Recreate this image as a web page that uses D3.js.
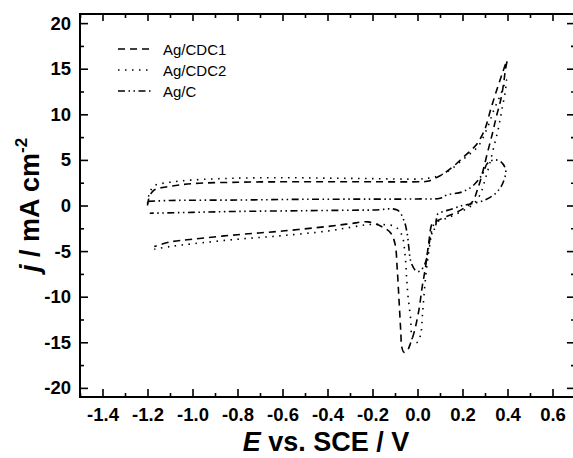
<!DOCTYPE html>
<html><head><meta charset="utf-8">
<script src="https://cdn.jsdelivr.net/npm/d3@7"></script>
<style>body{margin:0;background:#fff}svg{display:block}</style>
</head><body>
<script>
// ---- data ----
const seriesNames = ["Ag/CDC1", "Ag/CDC2", "Ag/C"];
// Ag/CDC1 (dashed), in scan order: anodic branch then cathodic return
const cdc1E = [-1.2,-1.195,-1.185,-1.167,-1.1,-1.0,-0.8,-0.6,-0.4,-0.2,0.0,0.043,0.08,0.117,0.16,0.206,0.24,0.266,0.285,0.303,0.325,0.35,0.377,0.398,
  0.39,0.384,0.37,0.35,0.333,0.31,0.288,0.266,0.244,0.206,0.16,0.12,0.085,0.066,0.05,0.036,0.021,0.006,-0.016,-0.031,-0.045,-0.06,-0.07,-0.074,-0.078,-0.083,-0.09,-0.1,-0.12,-0.16,-0.22,-0.3,-0.4,-0.6,-0.8,-1.0,-1.1,-1.17];
const cdc1J = [0.0,0.7,1.3,1.75,2.1,2.4,2.55,2.6,2.6,2.6,2.6,2.65,3.0,3.5,4.3,5.35,6.1,6.8,7.6,8.6,10.5,12.5,14.5,15.9,
  14.8,13.6,11.6,9.7,7.9,5.7,3.5,1.7,0.4,-0.3,-0.9,-1.3,-1.7,-1.95,-4.1,-6.7,-8.9,-11.5,-14.0,-15.1,-15.9,-16.1,-15.5,-14.0,-12.2,-10.0,-7.0,-4.2,-3.0,-2.3,-1.8,-2.0,-2.3,-2.8,-3.2,-3.7,-4.0,-4.5];
// Ag/CDC2 (dotted)
const cdc2E = [-1.2,-1.195,-1.185,-1.167,-1.1,-1.0,-0.8,-0.6,-0.4,-0.2,0.0,0.05,0.1,0.15,0.2,0.24,0.27,0.31,0.34,0.37,0.395,
  0.39,0.375,0.36,0.34,0.32,0.3,0.28,0.25,0.2,0.13,0.075,0.055,0.04,0.03,0.022,0.015,0.0,-0.02,-0.031,-0.042,-0.048,-0.055,-0.07,-0.1,-0.15,-0.22,-0.3,-0.4,-0.6,-0.8,-1.0,-1.1,-1.17];
const cdc2J = [0.2,1.0,1.7,2.2,2.55,2.8,3.0,3.05,3.0,2.95,2.9,3.0,3.3,4.0,5.0,5.8,6.5,8.5,10.5,12.2,13.8,
  12.5,10.5,8.5,6.5,4.5,2.8,1.3,0.2,-0.6,-1.4,-2.0,-4.3,-7.0,-9.5,-12.0,-14.0,-15.0,-14.8,-12.3,-10.0,-8.0,-5.5,-3.2,-2.3,-2.1,-2.1,-2.4,-2.8,-3.3,-3.7,-4.2,-4.5,-4.8];
// Ag/C (dash-dot-dot)
const agcE = [-1.197,-1.1,-0.8,-0.5,-0.2,0.0,0.1,0.13,0.2,0.25,0.29,0.31,0.34,0.37,0.392,
  0.38,0.35,0.3,0.24,0.2,0.15,0.1,0.088,0.08,0.058,0.05,0.036,0.015,-0.001,-0.016,-0.031,-0.039,-0.046,-0.061,-0.09,-0.2,-0.5,-0.8,-1.0,-1.19];
const agcJ = [0.45,0.55,0.6,0.68,0.7,0.72,0.8,1.15,1.5,2.25,3.5,4.6,5.0,4.8,3.9,
  2.5,1.4,0.6,0.2,0.0,-0.4,-0.8,-1.0,-2.3,-3.4,-4.5,-6.2,-7.1,-7.25,-6.9,-6.0,-4.5,-3.05,-1.6,-0.5,-0.5,-0.57,-0.65,-0.75,-0.85];
const xTicks = [-1.4,-1.2,-1.0,-0.8,-0.6,-0.4,-0.2,0.0,0.2,0.4,0.6];
const yTicks = [-20,-15,-10,-5,0,5,10,15,20];

// ---- layout ----
const W = 573, H = 458;
const m = {l: 80, t: 14, r: 575, b: 397};
const x = d3.scaleLinear().domain([-1.5, 0.7]).range([m.l, m.r]);
const y = d3.scaleLinear().domain([-21, 21]).range([m.b, m.t]);

const svg = d3.select("body").append("svg").attr("width", W).attr("height", H);
const font = "'Liberation Sans', Arial, sans-serif";
const hyph = f => v => f(v).replace("\u2212", "-");
const xMinor = d3.range(-15, 8, 1).map(v => v / 10).filter(v => !xTicks.some(t => Math.abs(t - v) < 1e-6));
const yMinor = d3.range(-20, 21, 2.5).filter(v => v % 5 !== 0);

function styleAxis(g) {
  g.selectAll(".domain").remove();
  g.selectAll("line").attr("stroke", "#000").attr("stroke-width", 1.6);
  g.selectAll("text").attr("font-family", font).attr("font-weight", "bold").attr("font-size", 18.5).attr("fill", "#000");
}
// bottom
svg.append("g").attr("transform", `translate(0,${m.b})`)
  .call(d3.axisBottom(x).tickValues(xTicks).tickSizeInner(-8).tickSizeOuter(0).tickPadding(11).tickFormat(hyph(d3.format(".1f"))))
  .call(styleAxis);
svg.append("g").attr("transform", `translate(0,${m.b})`)
  .call(d3.axisBottom(x).tickValues(xMinor).tickSize(-4).tickFormat("")).call(styleAxis);
// top
svg.append("g").attr("transform", `translate(0,${m.t})`)
  .call(d3.axisTop(x).tickValues(xTicks).tickSize(-7).tickFormat("")).call(styleAxis);
svg.append("g").attr("transform", `translate(0,${m.t})`)
  .call(d3.axisTop(x).tickValues(xMinor).tickSize(-4).tickFormat("")).call(styleAxis);
// left
svg.append("g").attr("transform", `translate(${m.l},0)`)
  .call(d3.axisLeft(y).tickValues(yTicks).tickSizeInner(-8).tickSizeOuter(0).tickPadding(9).tickFormat(hyph(d3.format("d"))))
  .call(styleAxis);
svg.append("g").attr("transform", `translate(${m.l},0)`)
  .call(d3.axisLeft(y).tickValues(yMinor).tickSize(-4).tickFormat("")).call(styleAxis);
// right
svg.append("g").attr("transform", `translate(${m.r},0)`)
  .call(d3.axisRight(y).tickValues(yTicks).tickSize(-8).tickFormat("")).call(styleAxis);
svg.append("g").attr("transform", `translate(${m.r},0)`)
  .call(d3.axisRight(y).tickValues(yMinor).tickSize(-4).tickFormat("")).call(styleAxis);

// frame
svg.append("rect").attr("x", m.l).attr("y", m.t).attr("width", m.r - m.l).attr("height", m.b - m.t)
  .attr("fill", "none").attr("stroke", "#000").attr("stroke-width", 2);

// data lines
const dashes = ["7,5", "1.5,5.5", "7,3.5,1.5,3.5,1.5,3.5"];
const sets = [[cdc1E, cdc1J], [cdc2E, cdc2J], [agcE, agcJ]];
const line = d3.line().x(d => x(d[0])).y(d => y(d[1])).curve(d3.curveCatmullRom.alpha(0.5));
sets.forEach((s, i) => {
  const pts = s[0].map((e, k) => [e, s[1][k]]);
  svg.append("path").datum(pts).attr("d", line).attr("fill", "none")
    .attr("stroke", "#000").attr("stroke-width", 1.6).attr("stroke-dasharray", dashes[i]);
});

// legend
const leg = svg.append("g");
seriesNames.forEach((n, i) => {
  const yy = 49 + i * 21;
  leg.append("line").attr("x1", 118).attr("x2", 153).attr("y1", yy).attr("y2", yy)
    .attr("stroke", "#000").attr("stroke-width", 1.6).attr("stroke-dasharray", dashes[i]);
  leg.append("text").attr("x", 163).attr("y", yy + 5.5).attr("font-size", 15).attr("font-family", font).text(n);
});

// axis titles
const xt = svg.append("text").attr("x", 326).attr("y", 451).attr("text-anchor", "middle")
  .attr("font-size", 27).attr("font-weight", "bold").attr("font-family", font);
xt.append("tspan").attr("font-style", "italic").text("E");
xt.append("tspan").text(" vs. SCE / V");

const yt = svg.append("text").attr("transform", `translate(39,205) rotate(-90)`).attr("text-anchor", "middle")
  .attr("font-size", 27).attr("font-weight", "bold").attr("font-family", font);
yt.append("tspan").attr("font-style", "italic").text("j");
yt.append("tspan").text(" / mA cm");
yt.append("tspan").attr("font-size", 17).attr("dy", -12).text("-2");
</script>
</body></html>
